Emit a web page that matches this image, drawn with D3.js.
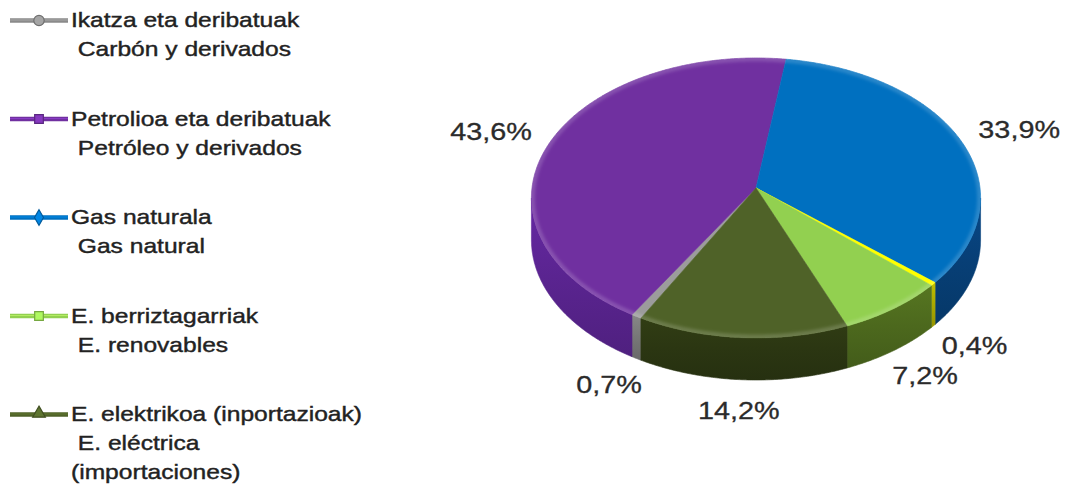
<!DOCTYPE html>
<html>
<head>
<meta charset="utf-8">
<script src="https://cdn.jsdelivr.net/npm/d3@7"></script>
<style>
  body { margin: 0; background: #fff; }
  svg { display: block; }
  text { font-family: "Liberation Sans", Arial, Helvetica, sans-serif; white-space: pre; }
</style>
</head>
<body>
<svg id="chart" width="1066" height="485"></svg>
<script>
// Energy sources, in drawing order (clockwise)
const sources = ["Ikatza eta deribatuak", "Petrolioa eta deribatuak", "Gas naturala", "Besteak", "E. berriztagarriak", "E. elektrikoa (inportazioak)"];
const shares = [0.7, 43.6, 33.9, 0.4, 7.2, 14.2];
const topColors = ["#9c9c9c", "#7030a0", "#0070c0", "#ffff00", "#92d050", "#4f6228"];
const sideColors = ["#777777", "#5a2490", "#073f76", "#a9a800", "#4c681d", "#2b3612"];

// Legend (bilingual lines) and its marker symbols
const legendLines = [
  ["Ikatza eta deribatuak", " Carbón y derivados"],
  ["Petrolioa eta deribatuak", " Petróleo y derivados"],
  ["Gas naturala", " Gas natural"],
  ["E. berriztagarriak", " E. renovables"],
  ["E. elektrikoa (inportazioak)", " E. eléctrica", "(importaciones)"]
];
const legendSymbols = ["circle", "square", "diamond", "square", "triangle"];
const legendColors = ["#8a8a8a", "#7030a0", "#0070c0", "#92d050", "#4f6228"];

const svg = d3.select("#chart");
const defs = svg.append("defs");
const sx = 1.2; // horizontal text stretch

// Pie geometry (tilted disc with slight perspective)
const cx = 756, cy = 188, rx = 224, ry = 139.3, persp = 0.0714, depth = 42;
const startDeg = 208.8;
const toRad = d => d * Math.PI / 180;

function proj(a, r = 1, dz = 0) {
  const u = Math.sin(a) * r, v = -Math.cos(a) * r;
  const k = 1 / (1 - persp * v);
  return [cx + rx * u * k, cy + ry * v * k + dz];
}
function rimPoints(a0, a1, dz) {
  const n = Math.max(2, Math.ceil(Math.abs(a1 - a0) / toRad(0.5)));
  return d3.range(n + 1).map(i => proj(a0 + (a1 - a0) * i / n, 1, dz));
}

const pie = d3.pie().sort(null).value(d => d)
  .startAngle(toRad(startDeg)).endAngle(toRad(startDeg) + 2 * Math.PI);
const arcs = pie(shares);

const line = d3.line();
const gPie = svg.append("g");

// Side walls: only the front part of the rim is visible
const frontLo = Math.acos(-persp), frontHi = 2 * Math.PI - Math.acos(-persp);
arcs.forEach((a, i) => {
  const grad = defs.append("linearGradient").attr("id", "side" + i)
    .attr("x1", 0).attr("y1", 0).attr("x2", 0).attr("y2", 1);
  const base = d3.color(sideColors[i]);
  grad.append("stop").attr("offset", 0).attr("stop-color", base.brighter(0.35));
  grad.append("stop").attr("offset", 0.5).attr("stop-color", base);
  grad.append("stop").attr("offset", 1).attr("stop-color", base.darker(0.35));
  for (let k = 0; k < 2; k++) {
    const lo = Math.max(a.startAngle, frontLo + 2 * Math.PI * k);
    const hi = Math.min(a.endAngle, frontHi + 2 * Math.PI * k);
    if (hi > lo) {
      const pts = rimPoints(lo, hi, 0).concat(rimPoints(hi, lo, depth));
      gPie.append("path").attr("d", line(pts) + "Z")
        .attr("fill", `url(#side${i})`)
        .attr("stroke", `url(#side${i})`).attr("stroke-width", 0.6);
    }
  }
});

// Top faces
arcs.forEach((a, i) => {
  const pts = [[cx, cy]].concat(rimPoints(a.startAngle, a.endAngle, 0));
  gPie.append("path").attr("d", line(pts) + "Z")
    .attr("fill", topColors[i]).attr("stroke", topColors[i]).attr("stroke-width", 0.6);
});

// Soft bevel light along the rim of the top face
const fullRim = line(rimPoints(0, 2 * Math.PI, 0)) + "Z";
defs.append("clipPath").attr("id", "topClip").append("path").attr("d", fullRim);
defs.append("filter").attr("id", "soft").append("feGaussianBlur").attr("stdDeviation", 1.5);
gPie.append("path").attr("d", fullRim)
  .attr("fill", "none").attr("stroke", "#ffffff").attr("stroke-opacity", 0.16)
  .attr("stroke-width", 7).attr("clip-path", "url(#topClip)").attr("filter", "url(#soft)");

// Percentage labels placed just outside each slice
const fmt = v => d3.format(".1f")(v).replace(".", ",") + "%";
const gap = 22, labelH = 17;
arcs.forEach((a, i) => {
  const m = (a.startAngle + a.endAngle) / 2;
  const dx = Math.sin(m), dy = -Math.cos(m);
  const front = dy > persp;
  const p = proj(m, 1, front ? depth : 0);
  const g = svg.append("g");
  const t = g.append("text").attr("text-anchor", "middle")
    .attr("font-size", 24).attr("fill", "#2b2b2b")
    .attr("stroke", "#2b2b2b").attr("stroke-width", 0.3)
    .text(fmt(a.data));
  const w = t.node().getComputedTextLength() * sx;
  const x = p[0] + dx * gap + dx * w / 2;
  const y = p[1] + dy * gap + dy * labelH / 2 + labelH / 2;
  g.attr("transform", `translate(${x},${y}) scale(${sx},1)`);
});

// Legend
const legendY0 = 27, legendStep = 98.5, lineGap = 29;
const gLeg = svg.append("g");
legendLines.forEach((lines, i) => {
  const by = legendY0 + i * legendStep;
  const ly = by - 6.5;
  const col = d3.color(legendColors[i]);
  gLeg.append("line").attr("x1", 10).attr("x2", 68).attr("y1", ly).attr("y2", ly)
    .attr("stroke", col).attr("stroke-width", 4.5);
  gLeg.append("line").attr("x1", 10).attr("x2", 68).attr("y1", ly - 0.5).attr("y2", ly - 0.5)
    .attr("stroke", col.brighter(0.9)).attr("stroke-opacity", 0.6).attr("stroke-width", 1.2);
  const mx = 39;
  const sym = legendSymbols[i];
  const shape = sym === "circle" ? d3.symbolCircle : sym === "square" ? d3.symbolSquare
    : sym === "diamond" ? d3.symbolDiamond : d3.symbolTriangle;
  const size = sym === "circle" ? 85 : sym === "square" ? 75 : 70;
  gLeg.append("path").attr("d", d3.symbol(shape, size)())
    .attr("transform", `translate(${mx},${ly + (sym === "triangle" ? -1 : 0)})`)
    .attr("fill", col.brighter(0.5)).attr("stroke", col.darker(0.6)).attr("stroke-width", 1.2);
  lines.forEach((txt, j) => {
    gLeg.append("text")
      .attr("transform", `translate(71,${by + j * lineGap}) scale(${sx},1)`)
      .attr("font-size", 20.5).attr("fill", "#222")
      .attr("stroke", "#222").attr("stroke-width", 0.4)
      .text(txt);
  });
});
</script>
</body>
</html>
